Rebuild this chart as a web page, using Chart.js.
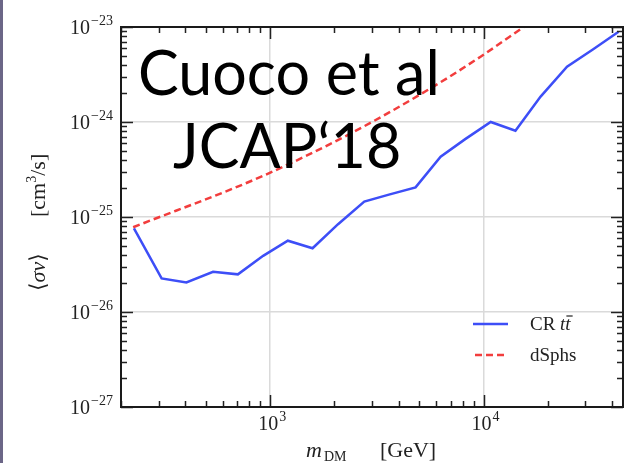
<!DOCTYPE html>
<html>
<head>
<meta charset="utf-8">
<script src="https://cdn.jsdelivr.net/npm/chart.js@4.4.1/dist/chart.umd.min.js"></script>
<style>
  html, body { margin: 0; padding: 0; background: #fff; }
  body { width: 630px; height: 463px; overflow: hidden; position: relative; }
  #edge { position: absolute; left: 0; top: 0; width: 3px; height: 463px; background: #6b6687; }
  canvas { position: absolute; left: 0; top: 0; }
</style>
</head>
<body>
<canvas id="limits" width="630" height="463"></canvas>
<div id="edge"></div>
<script>
// CR t tbar limit on <sigma v> vs DM mass
const massCR = [230, 310, 405, 540, 706, 927, 1210, 1580, 2080, 2760, 3600, 4800, 6290, 8200, 10800, 14100, 18500, 24600, 32500, 42900];
const sigmaCR = [7.6e-26, 2.26e-26, 2.05e-26, 2.65e-26, 2.49e-26, 3.9e-26, 5.63e-26, 4.69e-26, 8.4e-26, 1.45e-25,
                 1.72e-25, 2.05e-25, 4.31e-25, 6.6e-25, 1.0e-24, 8.1e-25, 1.85e-24, 3.82e-24, 5.8e-24, 8.9e-24];

// dwarf spheroidal limit
const massDSph = [228, 908, 2390, 5470, 9680, 15400];
const sigmaDSph = [7.8e-26, 2.66e-25, 7.6e-25, 2.17e-24, 4.87e-24, 1.0e-23];

const xTickExps = [3, 4];
const yTickExps = [-27, -26, -25, -24, -23];
const seriesNames = ['CR tt\u0304', 'dSphs'];

const X_MIN = 200, X_MAX = 45000;
const Y_MIN = 1e-27, Y_MAX = 1e-23;

const BLUE = '#3d4ef7';
const RED = '#f23d3d';
const SERIF = '"Liberation Serif", "DejaVu Serif", serif';

function isDecade(v) {
    const l = Math.log10(v);
    return Math.abs(l - Math.round(l)) < 1e-6;
}

function logTicks(min, max) {
    const out = [];
    for (let d = Math.floor(Math.log10(min)); d <= Math.ceil(Math.log10(max)); d++) {
        for (let m = 1; m <= 9; m++) {
            const v = m * Math.pow(10, d);
            if (v >= min * 0.9999 && v <= max * 1.0001) out.push(v);
        }
    }
    return out;
}

function expText(e) {
    return (e < 0 ? '\u2212' : '') + Math.abs(e);
}

// "10" with a raised exponent
function drawPower(ctx, e, x, y, align) {
    ctx.font = '20px ' + SERIF;
    const w10 = ctx.measureText('10').width;
    ctx.font = '14px ' + SERIF;
    const wE = ctx.measureText(expText(e)).width;
    const x0 = align === 'right' ? x - (w10 + 1 + wE) : x - (w10 + 1 + wE) / 2;
    ctx.textAlign = 'left';
    ctx.textBaseline = 'alphabetic';
    ctx.font = '20px ' + SERIF;
    ctx.fillText('10', x0, y);
    ctx.font = '14px ' + SERIF;
    ctx.fillText(expText(e), x0 + w10 + 1, y - 9);
}

const frame = {
    id: 'frame',
    afterDraw(chart) {
        const ctx = chart.ctx;
        const a = chart.chartArea;
        const xs = chart.scales.x, ys = chart.scales.y;
        ctx.save();

        // inward ticks on all four sides
        ctx.strokeStyle = '#222';
        ctx.lineWidth = 1.5;
        logTicks(Y_MIN, Y_MAX).forEach(v => {
            const y = Math.round(ys.getPixelForValue(v)) + 0.5;
            const len = isDecade(v) ? 12 : 6;
            ctx.beginPath();
            ctx.moveTo(a.left, y); ctx.lineTo(a.left + len, y);
            ctx.moveTo(a.right, y); ctx.lineTo(a.right - len, y);
            ctx.stroke();
        });
        logTicks(X_MIN, X_MAX).forEach(v => {
            const x = Math.round(xs.getPixelForValue(v)) + 0.5;
            const len = isDecade(v) ? 12 : 6;
            ctx.beginPath();
            ctx.moveTo(x, a.bottom); ctx.lineTo(x, a.bottom - len);
            ctx.moveTo(x, a.top); ctx.lineTo(x, a.top + len);
            ctx.stroke();
        });

        // box
        ctx.lineWidth = 2;
        ctx.strokeStyle = '#1a1a1a';
        ctx.strokeRect(a.left, a.top, a.right - a.left, a.bottom - a.top);

        // tick labels
        ctx.fillStyle = '#222';
        yTickExps.forEach(e => {
            const y = ys.getPixelForValue(Math.pow(10, e));
            drawPower(ctx, e, a.left - 8, y + 7, 'right');
        });
        xTickExps.forEach(e => {
            const x = xs.getPixelForValue(Math.pow(10, e));
            drawPower(ctx, e, x + 2, a.bottom + 23, 'center');
        });

        // x title: m_DM [GeV]
        ctx.textAlign = 'left';
        ctx.textBaseline = 'alphabetic';
        ctx.font = 'italic 22px ' + SERIF;
        ctx.fillText('m', 306, 457);
        ctx.font = '14px ' + SERIF;
        ctx.fillText('DM', 324, 461);
        ctx.font = '22px ' + SERIF;
        ctx.fillText('[GeV]', 380, 457);

        // y title: <sigma v> [cm^3/s]
        ctx.save();
        ctx.translate(45, 291);
        ctx.rotate(-Math.PI / 2);
        ctx.font = '22px ' + SERIF;
        let px = 0;
        ctx.fillText('\u27E8', px, 0); px += ctx.measureText('\u27E8').width;
        ctx.font = 'italic 22px ' + SERIF;
        ctx.fillText('\u03C3v', px, 0); px += ctx.measureText('\u03C3v').width;
        ctx.font = '22px ' + SERIF;
        ctx.fillText('\u27E9', px, 0);
        px = 74;
        ctx.fillText('[cm', px, 0); px += ctx.measureText('[cm').width;
        ctx.font = '14px ' + SERIF;
        ctx.fillText('3', px, -9); px += ctx.measureText('3').width;
        ctx.font = '22px ' + SERIF;
        ctx.fillText('/s]', px, 0);
        ctx.restore();

        // legend
        ctx.lineWidth = 2.5;
        ctx.strokeStyle = BLUE;
        ctx.beginPath(); ctx.moveTo(473, 324); ctx.lineTo(508, 324); ctx.stroke();
        ctx.strokeStyle = RED;
        ctx.setLineDash([7, 4]);
        ctx.beginPath(); ctx.moveTo(475, 355); ctx.lineTo(506, 355); ctx.stroke();
        ctx.setLineDash([]);
        ctx.fillStyle = '#222';
        ctx.font = '19px ' + SERIF;
        ctx.fillText('CR ', 530, 330);
        let lx = 530 + ctx.measureText('CR ').width;
        ctx.font = 'italic 19px ' + SERIF;
        const wt = ctx.measureText('t').width;
        ctx.fillText('tt', lx, 330);
        ctx.lineWidth = 1.2;
        ctx.strokeStyle = '#222';
        ctx.beginPath(); ctx.moveTo(lx + wt + 1, 316); ctx.lineTo(lx + 2 * wt + 2, 316); ctx.stroke();
        ctx.font = '19px ' + SERIF;
        ctx.fillText(seriesNames[1], 530, 361);

        // slide annotation
        ctx.fillStyle = '#000';
        ctx.font = '61px Lato, "Open Sans", sans-serif';
        ctx.fillText('Cuoco et al', 138, 95);
        ctx.fillText('JCAP\u201818', 173, 168);

        ctx.restore();
    }
};

const ctx = document.getElementById('limits').getContext('2d');

new Chart(ctx, {
    type: 'line',
    data: {
        datasets: [
            {
                label: seriesNames[0],
                data: massCR.map((m, i) => ({ x: m, y: sigmaCR[i] })),
                borderColor: BLUE,
                borderWidth: 2.5,
                pointRadius: 0,
                tension: 0,
                fill: false
            },
            {
                label: seriesNames[1],
                data: massDSph.map((m, i) => ({ x: m, y: sigmaDSph[i] })),
                borderColor: RED,
                borderWidth: 2.5,
                borderDash: [7, 4],
                pointRadius: 0,
                cubicInterpolationMode: 'monotone',
                fill: false
            }
        ]
    },
    options: {
        responsive: false,
        animation: false,
        devicePixelRatio: 1,
        layout: { padding: { left: 121, right: 7, top: 27, bottom: 56 } },
        plugins: { legend: { display: false }, tooltip: { enabled: false } },
        scales: {
            x: {
                type: 'logarithmic',
                min: X_MIN,
                max: X_MAX,
                border: { display: false },
                ticks: { display: false },
                grid: {
                    drawTicks: false,
                    lineWidth: 1.5,
                    color: c => isDecade(c.tick.value) ? '#dadada' : 'rgba(0,0,0,0)'
                }
            },
            y: {
                type: 'logarithmic',
                min: Y_MIN,
                max: Y_MAX,
                border: { display: false },
                ticks: { display: false },
                grid: {
                    drawTicks: false,
                    lineWidth: 1.5,
                    color: c => isDecade(c.tick.value) ? '#dadada' : 'rgba(0,0,0,0)'
                }
            }
        }
    },
    plugins: [frame]
});
</script>
</body>
</html>
